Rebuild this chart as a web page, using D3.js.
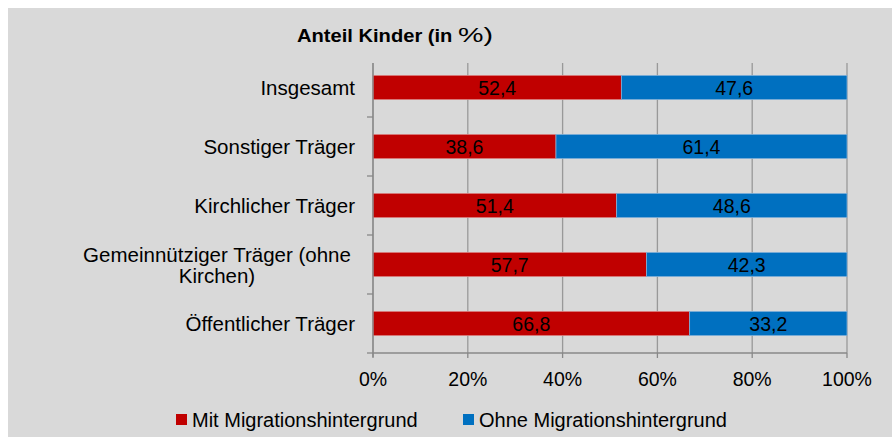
<!DOCTYPE html>
<html>
<head>
<meta charset="utf-8">
<script src="https://cdn.jsdelivr.net/npm/d3@7"></script>
<style>
  body { margin: 0; background: #fff; }
  svg { display: block; font-family: "Liberation Sans", Arial, sans-serif; }
</style>
</head>
<body>
<div id="chart"></div>
<script>
// Data
const categories = ['Insgesamt', 'Sonstiger Träger', 'Kirchlicher Träger', 'Gemeinnütziger Träger (ohne Kirchen)', 'Öffentlicher Träger'];
const mitMigration = [52.4, 38.6, 51.4, 57.7, 66.8];
const ohneMigration = [47.6, 61.4, 48.6, 42.3, 33.2];
const seriesNames = ['Mit Migrationshintergrund', 'Ohne Migrationshintergrund'];
const seriesColors = ['#c00000', '#0070c0'];
const xTicks = [0, 20, 40, 60, 80, 100];

const width = 892;
const height = 445;
const plot = { left: 373, right: 847, top: 58, bottom: 353 };

const svg = d3.select('#chart')
  .append('svg')
  .attr('width', width)
  .attr('height', height);

// Chart area background
svg.append('rect')
  .attr('x', 8)
  .attr('y', 8)
  .attr('width', width - 8)
  .attr('height', height - 16)
  .attr('fill', '#d9d9d9');

const x = d3.scaleLinear().domain([0, 100]).range([plot.left, plot.right]);
const y = d3.scaleBand().domain(categories).range([plot.top, plot.bottom]).paddingInner(0.59).paddingOuter(0.295);

// Title
const title = svg.append('text')
  .attr('x', 297)
  .attr('y', 42)
  .attr('font-size', '18px')
  .attr('font-weight', 'bold')
  .attr('fill', '#000');
title.append('tspan').attr('textLength', 161).attr('lengthAdjust', 'spacingAndGlyphs').text('Anteil Kinder (in ');
title.append('tspan')
  .attr('x', 458)
  .attr('font-weight', 'normal')
  .attr('font-size', '21px')
  .attr('textLength', 35)
  .attr('lengthAdjust', 'spacingAndGlyphs')
  .text('%)');

// Vertical gridlines
svg.append('g')
  .selectAll('line')
  .data(xTicks)
  .enter()
  .append('line')
  .attr('x1', d => x(d))
  .attr('x2', d => x(d))
  .attr('y1', plot.top + 5)
  .attr('y2', plot.bottom)
  .attr('stroke', '#999')
  .attr('stroke-width', 1.3);

// Stacked data
const rows = categories.map((c, i) => ({ cat: c, vals: [mitMigration[i], ohneMigration[i]] }));
const segs = [];
rows.forEach(r => {
  let acc = 0;
  r.vals.forEach((v, s) => {
    segs.push({ cat: r.cat, s: s, x0: acc, x1: acc + v, v: v });
    acc += v;
  });
});

svg.append('g')
  .selectAll('rect')
  .data(segs)
  .enter()
  .append('rect')
  .attr('x', d => x(d.x0))
  .attr('y', d => y(d.cat))
  .attr('width', d => x(d.x1) - x(d.x0))
  .attr('height', y.bandwidth())
  .attr('fill', d => seriesColors[d.s])
  .attr('stroke', d => d.s === 0 ? '#d98080' : '#80b0d8')
  .attr('stroke-width', 0.8);

// Value labels
svg.append('g')
  .selectAll('text')
  .data(segs)
  .enter()
  .append('text')
  .attr('x', d => (x(d.x0) + x(d.x1)) / 2)
  .attr('y', d => y(d.cat) + y.bandwidth() / 2 + 7)
  .attr('text-anchor', 'middle')
  .attr('font-size', '19.5px')
  .attr('fill', '#000')
  .text(d => d.v.toFixed(1).replace('.', ','));

// Y axis
const yAxisLine = svg.append('g');
yAxisLine.append('line')
  .attr('x1', plot.left).attr('x2', plot.left)
  .attr('y1', plot.top + 5).attr('y2', plot.bottom + 4)
  .attr('stroke', '#888').attr('stroke-width', 1.3);
const step = (plot.bottom - plot.top) / categories.length;
yAxisLine.selectAll('.ytick')
  .data(d3.range(1, categories.length + 1))
  .enter()
  .append('line')
  .attr('x1', plot.left - 6).attr('x2', plot.left)
  .attr('y1', d => plot.top + d * step)
  .attr('y2', d => plot.top + d * step)
  .attr('stroke', '#888').attr('stroke-width', 1.3);

// X axis line + ticks
svg.append('line')
  .attr('x1', plot.left).attr('x2', plot.right)
  .attr('y1', plot.bottom).attr('y2', plot.bottom)
  .attr('stroke', '#888').attr('stroke-width', 1.3);
svg.append('g')
  .selectAll('line')
  .data(xTicks)
  .enter()
  .append('line')
  .attr('x1', d => x(d)).attr('x2', d => x(d))
  .attr('y1', plot.bottom).attr('y2', plot.bottom + 5)
  .attr('stroke', '#888').attr('stroke-width', 1.3);

svg.append('g')
  .selectAll('text')
  .data(xTicks)
  .enter()
  .append('text')
  .attr('x', d => x(d))
  .attr('y', 386)
  .attr('text-anchor', 'middle')
  .attr('font-size', '19.5px')
  .attr('fill', '#000')
  .text(d => d + '%');

// Category labels
const catLabels = svg.append('g');
categories.forEach(c => {
  const cy = y(c) + y.bandwidth() / 2;
  if (c.indexOf('(ohne') >= 0) {
    const t = catLabels.append('text')
      .attr('text-anchor', 'middle')
      .attr('font-size', '20.5px')
      .attr('fill', '#000');
    t.append('tspan').attr('x', 217).attr('y', 262).text('Gemeinnütziger Träger (ohne');
    t.append('tspan').attr('x', 217).attr('y', 283).text('Kirchen)');
  } else {
    catLabels.append('text')
      .attr('x', 355)
      .attr('y', cy + 7)
      .attr('text-anchor', 'end')
      .attr('font-size', '20.5px')
      .attr('fill', '#000')
      .text(c);
  }
});

// Legend
const legendX = [176, 463];
const legend = svg.append('g');
seriesNames.forEach((n, i) => {
  legend.append('rect')
    .attr('x', legendX[i])
    .attr('y', 414)
    .attr('width', 11)
    .attr('height', 11)
    .attr('fill', seriesColors[i]);
  legend.append('text')
    .attr('x', legendX[i] + 16)
    .attr('y', 427)
    .attr('font-size', '20px')
    .attr('fill', '#000')
    .text(n);
});
</script>
</body>
</html>
